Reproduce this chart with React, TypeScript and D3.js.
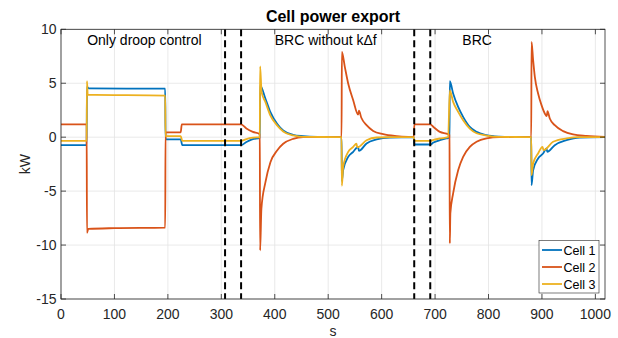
import * as d3 from "d3";
import React, { RefObject, useEffect, useRef } from "react";

// Power of each cell [s, kW]
const cell1: [number, number][] = [
  [0, -0.74], [48, -0.74], [48.6, 4.66], [52, 4.52], [195, 4.5], [195.6, -0.21],
  [224, -0.21], [227, -0.74], [337, -0.74], [347, -0.44], [359, -0.19], [372, -0.06],
  [372.7, 4.8], [382.6, 3.56], [391.9, 2.32], [404.4, 1.24], [415.8, 0.62], [434.5, 0.22],
  [453, 0.09], [480, 0.02], [525, 0], [525.6, -4.05], [528, -3.06], [537.4, -1.83],
  [546.8, -1.36], [556, -0.9], [557.5, -1.27], [571.8, -0.58], [590.5, -0.21], [615.4, -0.03],
  [660, 0], [661.3, -0.68], [691, -0.68], [697, -0.5], [709, -0.28], [724.5, -0.08],
  [727, -0.05], [727.6, 5.2], [733.8, 4.05], [743.2, 2.8], [752.5, 1.88], [765, 0.95],
  [777.6, 0.49], [796.3, 0.19], [820, 0.05], [850, 0], [880, 0], [880.5, -4.45],
  [883.5, -3.06], [892.8, -1.97], [902.1, -1.51], [908.5, -1.05], [910, -1.36], [924, -0.74],
  [945.9, -0.28], [970.8, -0.03], [1018, 0],
];
const cell2: [number, number][] = [
  [0, 1.18], [48, 1.18], [48.6, -8.87], [51, -8.5], [100, -8.43], [195, -8.38], [195.6, 0.44],
  [224, 0.44], [226, 1.18], [337, 1.18], [347, 0.8], [359, 0.49], [372, 0.28],
  [372.6, -10.5], [375, -6.64], [382.6, -4.17], [391.9, -2.32], [404.4, -1.23], [415.8, -0.61],
  [434.5, -0.15], [453, 0], [525, 0], [525.6, 7.9], [531.2, 6.5], [537.4, 4.98],
  [546.8, 3.43], [556, 2.1], [557.5, 2.45], [562, 1.8], [571.8, 1.11], [584.2, 0.58],
  [602.9, 0.28], [628, 0.1], [650, 0.02], [660, 0], [661.3, 1.18], [691, 1.18], [697, 0.95],
  [709, 0.49], [724.5, 0.28], [727, 0.2], [727.6, -9.85], [728.6, -7.07], [733.8, -5.2],
  [743.2, -3.06], [752.5, -1.82], [765, -0.9], [777.6, -0.43], [796.3, -0.12], [820, 0],
  [880, 0], [880.5, 8.83], [883.5, 7.14], [886.7, 5.59], [892.8, 4.05], [899.2, 2.97],
  [905.3, 2.2], [909, 1.95], [910.4, 2.41], [914.7, 1.73], [924, 1.11], [939.6, 0.56],
  [958.3, 0.25], [983.3, 0.11], [1018, 0.02],
];
const cell3: [number, number][] = [
  [0, -0.34], [48, -0.34], [48.6, 5.2], [50, 3.95], [195, 3.85], [195.6, 0.09], [224, 0.09],
  [227, -0.34], [337, -0.34], [347, -0.17], [359, -0.05], [372, 0], [372.6, 6.56],
  [375.4, 4.17], [382.6, 3.25], [391.9, 2.0], [404.4, 1.09], [415.8, 0.53], [434.5, 0.16],
  [453, 0.03], [525, 0], [525.6, -4.5], [528, -2.75], [537.4, -1.36], [546.8, -0.9],
  [553, -0.6], [554.5, -0.95], [571.8, -0.28], [590.5, -0.03], [620, 0], [660, 0],
  [661.3, -0.34], [691, -0.34], [697, -0.25], [709, -0.12], [724.5, 0], [727.6, 4.33],
  [733.8, 3.27], [743.2, 2.35], [752.5, 1.58], [765, 0.8], [777.6, 0.36], [796.3, 0.15],
  [820, 0.03], [880, 0], [880.5, -3.52], [883.5, -2.44], [892.8, -1.51], [901, -0.9],
  [903, -1.2], [920.9, -0.43], [945.9, -0.12], [970, 0], [1018, 0],
];

const seriesNames = ["Cell 1", "Cell 2", "Cell 3"];
const seriesColors = ["#0072BD", "#D95319", "#EDB120"];
const dashedTimes = [307, 337, 661, 691];
const phaseLabels: [string, number][] = [
  ["Only droop control", 49],
  ["BRC without k\u0394f", 400],
  ["BRC", 751],
];
const xTicks = d3.range(0, 1001, 100);
const yTicks = [-15, -10, -5, 0, 5, 10];

const W = 618;
const H = 338;
const font = "'Liberation Sans', Arial, Helvetica, sans-serif";
const ink = "#262626";

const App = () => {
  const ref: RefObject<HTMLDivElement> = useRef(null);

  useEffect(() => {
    const root = d3.select(ref.current);
    root.selectAll("*").remove();
    const svg = root.append("svg").attr("width", W).attr("height", H)
      .style("position", "absolute").style("left", "0px").style("top", "0px")
      .style("background", "#fff");

    const left = 61, right = 605, top = 29.3, bottom = 299;
    const x = d3.scaleLinear().domain([0, 1018]).range([left, right]);
    const y = d3.scaleLinear().domain([-15, 10]).range([bottom, top]);

    svg.append("rect").attr("x", left).attr("y", top)
      .attr("width", right - left).attr("height", bottom - top).attr("fill", "#fff");

    // grid
    const grid = svg.append("g").attr("stroke", "#e3e3e3").attr("stroke-width", 0.8);
    xTicks.forEach((t) => grid.append("line").attr("x1", x(t)).attr("x2", x(t))
      .attr("y1", top).attr("y2", bottom));
    yTicks.forEach((t) => grid.append("line").attr("x1", left).attr("x2", right)
      .attr("y1", y(t)).attr("y2", y(t)));

    // series
    const line = d3.line<[number, number]>().x((d) => x(d[0])).y((d) => y(d[1]))
      .curve(d3.curveMonotoneX);
    [cell1, cell2, cell3].forEach((s, i) => {
      svg.append("path").attr("d", line(s) as string).attr("fill", "none")
        .attr("stroke", seriesColors[i]).attr("stroke-width", 1.8)
        .attr("stroke-linejoin", "round");
    });

    // dashed separators
    dashedTimes.forEach((t) => svg.append("line").attr("x1", x(t)).attr("x2", x(t))
      .attr("y1", top).attr("y2", bottom).attr("stroke", "#000")
      .attr("stroke-width", 2).attr("stroke-dasharray", "7,4"));

    // axes box and ticks
    svg.append("rect").attr("x", left).attr("y", top)
      .attr("width", right - left).attr("height", bottom - top)
      .attr("fill", "none").attr("stroke", ink).attr("stroke-width", 0.8);
    const tk = svg.append("g").attr("stroke", ink).attr("stroke-width", 0.8);
    xTicks.forEach((t) => {
      tk.append("line").attr("x1", x(t)).attr("x2", x(t)).attr("y1", bottom).attr("y2", bottom - 5);
      tk.append("line").attr("x1", x(t)).attr("x2", x(t)).attr("y1", top).attr("y2", top + 5);
    });
    yTicks.forEach((t) => {
      tk.append("line").attr("x1", left).attr("x2", left + 5).attr("y1", y(t)).attr("y2", y(t));
      tk.append("line").attr("x1", right).attr("x2", right - 5).attr("y1", y(t)).attr("y2", y(t));
    });

    const txt = svg.append("g").attr("font-family", font).attr("fill", ink).attr("font-size", 14);
    xTicks.forEach((t) => txt.append("text").attr("x", x(t)).attr("y", 319)
      .attr("text-anchor", "middle").text(String(t)));
    yTicks.forEach((t) => txt.append("text").attr("x", 56.5).attr("y", y(t) + 5)
      .attr("text-anchor", "end").text(String(t)));

    txt.append("text").attr("x", (left + right) / 2).attr("y", 336)
      .attr("text-anchor", "middle").text("s");
    txt.append("text").attr("transform", `translate(30,${(top + bottom) / 2}) rotate(-90)`)
      .attr("text-anchor", "middle").text("kW");
    txt.append("text").attr("x", (left + right) / 2).attr("y", 22)
      .attr("text-anchor", "middle").attr("font-weight", "bold").attr("font-size", 16)
      .attr("fill", "#000").text("Cell power export");

    phaseLabels.forEach(([label, t]) => txt.append("text").attr("x", x(t)).attr("y", y(8.5))
      .attr("fill", "#000").text(label));

    // legend
    const lg = svg.append("g");
    lg.append("rect").attr("x", 539).attr("y", 240.5).attr("width", 60).attr("height", 52.5)
      .attr("fill", "#fff").attr("stroke", "#262626").attr("stroke-width", 0.6);
    seriesNames.forEach((n, i) => {
      const cy = 250 + i * 17;
      lg.append("line").attr("x1", 542).attr("x2", 562).attr("y1", cy).attr("y2", cy)
        .attr("stroke", seriesColors[i]).attr("stroke-width", 1.8);
      lg.append("text").attr("x", 563.5).attr("y", cy + 4.5).attr("font-family", font)
        .attr("font-size", 12.5).attr("fill", "#000").text(n);
    });
  }, [ref]);

  return <div ref={ref} />;
};

export default App;
